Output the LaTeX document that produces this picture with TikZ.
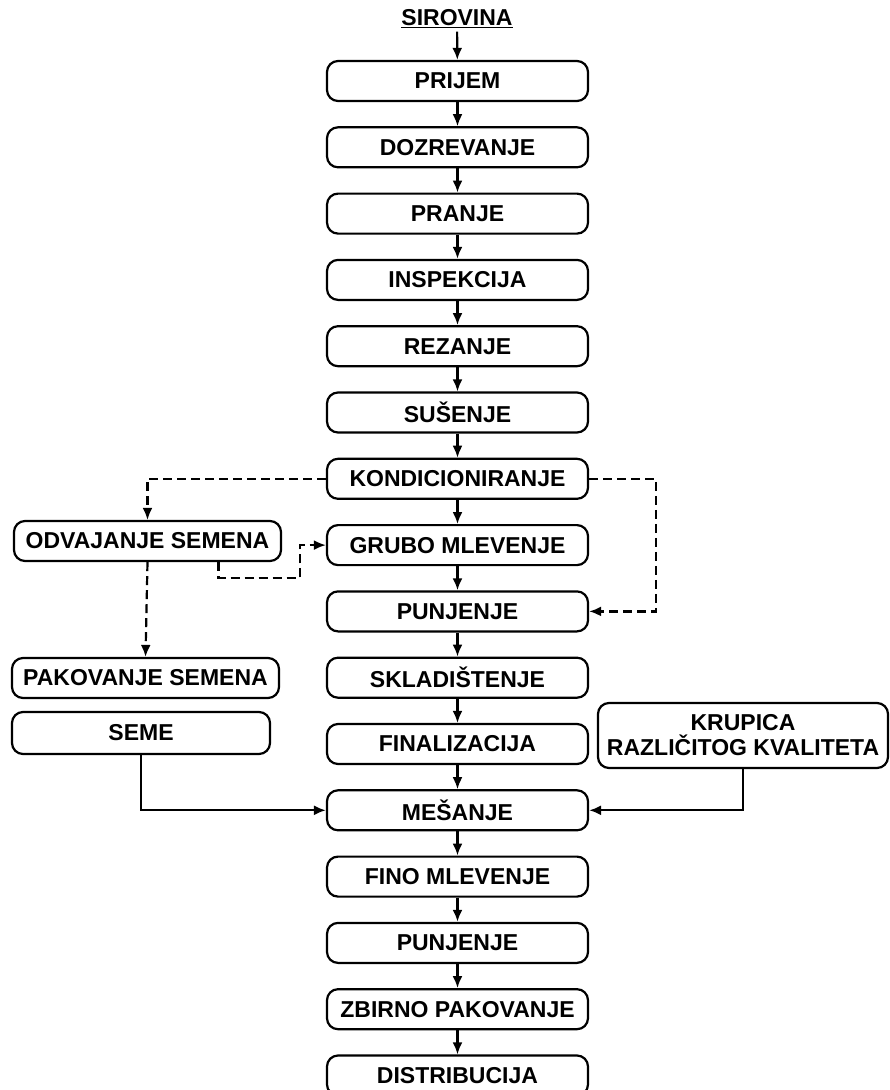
\documentclass[tikz,border=0pt]{standalone}
\usepackage{fontspec}
\setmainfont{Liberation Sans}
\usetikzlibrary{arrows.meta}

\begin{document}
\begin{tikzpicture}[x=1pt, y=-1pt,
  box/.style = {draw, line width=2.2pt, rounded corners=11pt, minimum width=261pt,
                minimum height=40pt, inner sep=0pt, align=center},
  arr/.style = {line width=2.2pt, -{Latex[length=12pt,width=10pt]}},
  dashline/.style = {arr, dash pattern=on 9pt off 5pt},
  font = \bfseries\fontsize{23}{25}\selectfont]
\useasboundingbox (0,0) rectangle (890,1090);
\node (sirovina) at (457,19) {\underline{SIROVINA}};
% main column
\foreach \n/\t [count=\i from 0] in {prijem/PRIJEM, dozrevanje/DOZREVANJE, pranje/PRANJE,
    inspekcija/INSPEKCIJA, rezanje/REZANJE, susenje/SUŠENJE, kond/KONDICIONIRANJE,
    grubo/GRUBO MLEVENJE, punjenjeA/PUNJENJE, skladistenje/SKLADIŠTENJE,
    finalizacija/FINALIZACIJA, mesanje/MEŠANJE, fino/FINO MLEVENJE, punjenjeB/PUNJENJE,
    zbirno/ZBIRNO PAKOVANJE, distribucija/DISTRIBUCIJA}
  {\node[box] (\n) at (457.5, 81+66.3*\i) {\t};}
\foreach \a/\b in {sirovina/prijem, prijem/dozrevanje, dozrevanje/pranje, pranje/inspekcija,
    inspekcija/rezanje, rezanje/susenje, susenje/kond, kond/grubo, grubo/punjenjeA,
    punjenjeA/skladistenje, skladistenje/finalizacija, finalizacija/mesanje, mesanje/fino,
    fino/punjenjeB, punjenjeB/zbirno, zbirno/distribucija}
  {\draw[arr] (\a) -- (\b);}
% side boxes
\node[box, minimum width=267pt] (odvajanje) at (147.5,541) {ODVAJANJE SEMENA};
\node[box, minimum width=267pt] (pakovanje) at (145.5,678) {PAKOVANJE SEMENA};
\node[box, minimum width=258pt, minimum height=42pt] (seme) at (141,733) {SEME};
\node[box, minimum width=290pt, minimum height=65pt] (krupica) at (743,735.5) {KRUPICA\\RAZLIČITOG KVALITETA};
% dashed paths
\draw[dashline] (kond.west) -| (odvajanje.north);
\draw[dashline] (kond.east) -- ++(67,0) |- (punjenjeA.east);
\draw[dashline] (odvajanje.south) -- (pakovanje.north);
\draw[dashline] ([xshift=71pt]odvajanje.south) |- (300,578) |- (grubo.west);
% inputs to mixing
\draw[arr] (seme.south) |- (mesanje.west);
\draw[arr] (krupica.south) |- (mesanje.east);
\end{tikzpicture}
\end{document}
